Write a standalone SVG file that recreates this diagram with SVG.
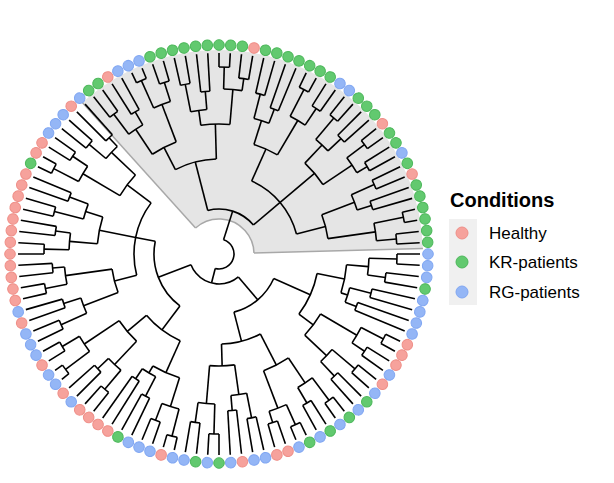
<svg xmlns="http://www.w3.org/2000/svg" xmlns:xlink="http://www.w3.org/1999/xlink" width="614" height="483" viewBox="0 0 614 483">
<style>
.t path,.t circle{stroke:#000;stroke-width:1.6;fill:none}
.dR{fill:#F6A29C;stroke:#EF8F88;stroke-width:1}
.dG{fill:#62C96F;stroke:#4DB85B;stroke-width:1}
.dB{fill:#94B6F6;stroke:#81A7F2;stroke-width:1}
.lab{font-family:"Liberation Sans",Arial,sans-serif;font-size:17px;fill:#000}
</style>
<defs>
<circle id="R" class="dR" cx="209" cy="0" r="5.3"/>
<circle id="G" class="dG" cx="209" cy="0" r="5.3"/>
<circle id="B" class="dB" cx="209" cy="0" r="5.3"/>
</defs>
<rect width="614" height="483" fill="#fff"/>
<g id="highlight" transform="translate(219,254) rotate(231.43)">
<circle r="119.5" fill="none" stroke="#e5e5e5" stroke-width="169" pathLength="360" stroke-dasharray="130.5 400" transform="rotate(-3.5)"/>
<g fill="none" stroke="#a8a8a8" stroke-width="1.5">
<circle r="35" pathLength="360" stroke-dasharray="130.5 400" transform="rotate(-3.5)"/>
<path d="M35 0H204" transform="rotate(-3.5)"/>
<path d="M35 0H204" transform="rotate(127)"/>
</g>
</g>
<g id="tree" class="t" transform="translate(219,254) rotate(231.43)">
<circle r="15" pathLength="360" stroke-dasharray="176.79 400" transform="rotate(56.25)"/>
<path d="M15 0H45" transform="rotate(56.25)"/>
<circle r="45" pathLength="360" stroke-dasharray="64.29 400" transform="rotate(24.11)"/>
<path d="M45 0H95" transform="rotate(24.11)"/>
<circle r="95" pathLength="360" stroke-dasharray="25.71 400" transform="rotate(11.25)"/>
<path d="M45 0H80" transform="rotate(88.39)"/>
<circle r="80" pathLength="360" stroke-dasharray="51.43 400" transform="rotate(62.68)"/>
<path d="M15 0H30" transform="rotate(233.04)"/>
<circle r="30" pathLength="360" stroke-dasharray="109.29 400" transform="rotate(178.39)"/>
<path d="M30 0H60" transform="rotate(178.39)"/>
<circle r="60" pathLength="360" stroke-dasharray="51.43 400" transform="rotate(152.68)"/>
<path d="M60 0H100" transform="rotate(152.68)"/>
<circle r="100" pathLength="360" stroke-dasharray="25.71 400" transform="rotate(139.82)"/>
<path d="M60 0H90" transform="rotate(204.11)"/>
<circle r="90" pathLength="360" stroke-dasharray="25.71 400" transform="rotate(191.25)"/>
<path d="M30 0H65" transform="rotate(287.68)"/>
<circle r="65" pathLength="360" stroke-dasharray="64.29 400" transform="rotate(255.54)"/>
<path d="M65 0H95" transform="rotate(255.54)"/>
<circle r="95" pathLength="360" stroke-dasharray="25.71 400" transform="rotate(242.68)"/>
<path d="M65 0H85" transform="rotate(319.82)"/>
<circle r="85" pathLength="360" stroke-dasharray="51.43 400" transform="rotate(294.11)"/>

<g transform="rotate(0)"><path d="M95 0H120" transform="rotate(11.25)"/><circle r="120" pathLength="360" stroke-dasharray="12.857 400" transform="rotate(4.821)"/>
<g><path d="M120 0H150" transform="rotate(4.821)"/><circle r="150" pathLength="360" stroke-dasharray="6.429 400" transform="rotate(1.607)"/>
<g><path d="M150 0H175" transform="rotate(1.607)"/><path d="M175 0H201"/><path d="M175 0H201" transform="rotate(3.214)"/><circle r="175" pathLength="360" stroke-dasharray="3.214 400"/></g>
<g transform="rotate(6.429)"><path d="M150 0H165" transform="rotate(1.607)"/><path d="M165 0H201"/><path d="M165 0H201" transform="rotate(3.214)"/><circle r="165" pathLength="360" stroke-dasharray="3.214 400"/></g></g>
<g transform="rotate(12.857)"><path d="M120 0H160" transform="rotate(4.821)"/><circle r="160" pathLength="360" stroke-dasharray="6.429 400" transform="rotate(1.607)"/>
<g><path d="M160 0H190" transform="rotate(1.607)"/><path d="M190 0H201"/><path d="M190 0H201" transform="rotate(3.214)"/><circle r="190" pathLength="360" stroke-dasharray="3.214 400"/></g>
<g transform="rotate(6.429)"><path d="M160 0H180" transform="rotate(1.607)"/><path d="M180 0H201"/><path d="M180 0H201" transform="rotate(3.214)"/><circle r="180" pathLength="360" stroke-dasharray="3.214 400"/></g></g></g>

<g transform="rotate(25.714)"><path d="M95 0H130" transform="rotate(11.25)"/><circle r="130" pathLength="360" stroke-dasharray="12.857 400" transform="rotate(4.821)"/>
<g><path d="M130 0H145" transform="rotate(4.821)"/><circle r="145" pathLength="360" stroke-dasharray="6.429 400" transform="rotate(1.607)"/>
<g><path d="M145 0H173" transform="rotate(1.607)"/><path d="M173 0H201"/><path d="M173 0H201" transform="rotate(3.214)"/><circle r="173" pathLength="360" stroke-dasharray="3.214 400"/></g>
<g transform="rotate(6.429)"><path d="M145 0H163" transform="rotate(1.607)"/><path d="M163 0H201"/><path d="M163 0H201" transform="rotate(3.214)"/><circle r="163" pathLength="360" stroke-dasharray="3.214 400"/></g></g>
<g transform="rotate(12.857)"><path d="M130 0H165" transform="rotate(4.821)"/><circle r="165" pathLength="360" stroke-dasharray="6.429 400" transform="rotate(1.607)"/>
<g><path d="M165 0H187" transform="rotate(1.607)"/><path d="M187 0H201"/><path d="M187 0H201" transform="rotate(3.214)"/><circle r="187" pathLength="360" stroke-dasharray="3.214 400"/></g>
<g transform="rotate(6.429)"><path d="M165 0H177" transform="rotate(1.607)"/><path d="M177 0H201"/><path d="M177 0H201" transform="rotate(3.214)"/><circle r="177" pathLength="360" stroke-dasharray="3.214 400"/></g></g></g>

<g transform="rotate(51.429)"><path d="M80 0H115" transform="rotate(11.25)"/><circle r="115" pathLength="360" stroke-dasharray="12.857 400" transform="rotate(4.821)"/>
<g><path d="M115 0H140" transform="rotate(4.821)"/><circle r="140" pathLength="360" stroke-dasharray="6.429 400" transform="rotate(1.607)"/>
<g><path d="M140 0H165" transform="rotate(1.607)"/><path d="M165 0H201"/><path d="M165 0H201" transform="rotate(3.214)"/><circle r="165" pathLength="360" stroke-dasharray="3.214 400"/></g>
<g transform="rotate(6.429)"><path d="M140 0H155" transform="rotate(1.607)"/><path d="M155 0H201"/><path d="M155 0H201" transform="rotate(3.214)"/><circle r="155" pathLength="360" stroke-dasharray="3.214 400"/></g></g>
<g transform="rotate(12.857)"><path d="M115 0H155" transform="rotate(4.821)"/><circle r="155" pathLength="360" stroke-dasharray="6.429 400" transform="rotate(1.607)"/>
<g><path d="M155 0H185" transform="rotate(1.607)"/><path d="M185 0H201"/><path d="M185 0H201" transform="rotate(3.214)"/><circle r="185" pathLength="360" stroke-dasharray="3.214 400"/></g>
<g transform="rotate(6.429)"><path d="M155 0H175" transform="rotate(1.607)"/><path d="M175 0H201"/><path d="M175 0H201" transform="rotate(3.214)"/><circle r="175" pathLength="360" stroke-dasharray="3.214 400"/></g></g></g>

<g transform="rotate(77.143)"><path d="M80 0H125" transform="rotate(11.25)"/><circle r="125" pathLength="360" stroke-dasharray="12.857 400" transform="rotate(4.821)"/>
<g><path d="M125 0H150" transform="rotate(4.821)"/><circle r="150" pathLength="360" stroke-dasharray="6.429 400" transform="rotate(1.607)"/>
<g><path d="M150 0H178" transform="rotate(1.607)"/><path d="M178 0H201"/><path d="M178 0H201" transform="rotate(3.214)"/><circle r="178" pathLength="360" stroke-dasharray="3.214 400"/></g>
<g transform="rotate(6.429)"><path d="M150 0H168" transform="rotate(1.607)"/><path d="M168 0H201"/><path d="M168 0H201" transform="rotate(3.214)"/><circle r="168" pathLength="360" stroke-dasharray="3.214 400"/></g></g>
<g transform="rotate(12.857)"><path d="M125 0H160" transform="rotate(4.821)"/><circle r="160" pathLength="360" stroke-dasharray="6.429 400" transform="rotate(1.607)"/>
<g><path d="M160 0H182" transform="rotate(1.607)"/><path d="M182 0H201"/><path d="M182 0H201" transform="rotate(3.214)"/><circle r="182" pathLength="360" stroke-dasharray="3.214 400"/></g>
<g transform="rotate(6.429)"><path d="M160 0H172" transform="rotate(1.607)"/><path d="M172 0H201"/><path d="M172 0H201" transform="rotate(3.214)"/><circle r="172" pathLength="360" stroke-dasharray="3.214 400"/></g></g></g>

<g transform="rotate(102.857)"><path d="M80 0H110" transform="rotate(11.25)"/><circle r="110" pathLength="360" stroke-dasharray="12.857 400" transform="rotate(4.821)"/>
<g><path d="M110 0H145" transform="rotate(4.821)"/><circle r="145" pathLength="360" stroke-dasharray="6.429 400" transform="rotate(1.607)"/>
<g><path d="M145 0H170" transform="rotate(1.607)"/><path d="M170 0H201"/><path d="M170 0H201" transform="rotate(3.214)"/><circle r="170" pathLength="360" stroke-dasharray="3.214 400"/></g>
<g transform="rotate(6.429)"><path d="M145 0H160" transform="rotate(1.607)"/><path d="M160 0H201"/><path d="M160 0H201" transform="rotate(3.214)"/><circle r="160" pathLength="360" stroke-dasharray="3.214 400"/></g></g>
<g transform="rotate(12.857)"><path d="M110 0H158" transform="rotate(4.821)"/><circle r="158" pathLength="360" stroke-dasharray="6.429 400" transform="rotate(1.607)"/>
<g><path d="M158 0H188" transform="rotate(1.607)"/><path d="M188 0H201"/><path d="M188 0H201" transform="rotate(3.214)"/><circle r="188" pathLength="360" stroke-dasharray="3.214 400"/></g>
<g transform="rotate(6.429)"><path d="M158 0H178" transform="rotate(1.607)"/><path d="M178 0H201"/><path d="M178 0H201" transform="rotate(3.214)"/><circle r="178" pathLength="360" stroke-dasharray="3.214 400"/></g></g></g>

<g transform="rotate(128.571)"><path d="M100 0H128" transform="rotate(11.25)"/><circle r="128" pathLength="360" stroke-dasharray="12.857 400" transform="rotate(4.821)"/>
<g><path d="M128 0H150" transform="rotate(4.821)"/><circle r="150" pathLength="360" stroke-dasharray="6.429 400" transform="rotate(1.607)"/>
<g><path d="M150 0H178" transform="rotate(1.607)"/><path d="M178 0H201"/><path d="M178 0H201" transform="rotate(3.214)"/><circle r="178" pathLength="360" stroke-dasharray="3.214 400"/></g>
<g transform="rotate(6.429)"><path d="M150 0H168" transform="rotate(1.607)"/><path d="M168 0H201"/><path d="M168 0H201" transform="rotate(3.214)"/><circle r="168" pathLength="360" stroke-dasharray="3.214 400"/></g></g>
<g transform="rotate(12.857)"><path d="M128 0H135" transform="rotate(4.821)"/><circle r="135" pathLength="360" stroke-dasharray="6.429 400" transform="rotate(1.607)"/>
<g><path d="M135 0H157" transform="rotate(1.607)"/><path d="M157 0H201"/><path d="M157 0H201" transform="rotate(3.214)"/><circle r="157" pathLength="360" stroke-dasharray="3.214 400"/></g>
<g transform="rotate(6.429)"><path d="M135 0H147" transform="rotate(1.607)"/><path d="M147 0H201"/><path d="M147 0H201" transform="rotate(3.214)"/><circle r="147" pathLength="360" stroke-dasharray="3.214 400"/></g></g></g>

<g transform="rotate(154.286)"><path d="M100 0H118" transform="rotate(11.25)"/><circle r="118" pathLength="360" stroke-dasharray="12.857 400" transform="rotate(4.821)"/>
<g><path d="M118 0H160" transform="rotate(4.821)"/><circle r="160" pathLength="360" stroke-dasharray="6.429 400" transform="rotate(1.607)"/>
<g><path d="M160 0H185" transform="rotate(1.607)"/><path d="M185 0H201"/><path d="M185 0H201" transform="rotate(3.214)"/><circle r="185" pathLength="360" stroke-dasharray="3.214 400"/></g>
<g transform="rotate(6.429)"><path d="M160 0H175" transform="rotate(1.607)"/><path d="M175 0H201"/><path d="M175 0H201" transform="rotate(3.214)"/><circle r="175" pathLength="360" stroke-dasharray="3.214 400"/></g></g>
<g transform="rotate(12.857)"><path d="M118 0H148" transform="rotate(4.821)"/><circle r="148" pathLength="360" stroke-dasharray="6.429 400" transform="rotate(1.607)"/>
<g><path d="M148 0H178" transform="rotate(1.607)"/><path d="M178 0H201"/><path d="M178 0H201" transform="rotate(3.214)"/><circle r="178" pathLength="360" stroke-dasharray="3.214 400"/></g>
<g transform="rotate(6.429)"><path d="M148 0H168" transform="rotate(1.607)"/><path d="M168 0H201"/><path d="M168 0H201" transform="rotate(3.214)"/><circle r="168" pathLength="360" stroke-dasharray="3.214 400"/></g></g></g>

<g transform="rotate(180)"><path d="M90 0H125" transform="rotate(11.25)"/><circle r="125" pathLength="360" stroke-dasharray="12.857 400" transform="rotate(4.821)"/>
<g><path d="M125 0H155" transform="rotate(4.821)"/><circle r="155" pathLength="360" stroke-dasharray="6.429 400" transform="rotate(1.607)"/>
<g><path d="M155 0H183" transform="rotate(1.607)"/><path d="M183 0H201"/><path d="M183 0H201" transform="rotate(3.214)"/><circle r="183" pathLength="360" stroke-dasharray="3.214 400"/></g>
<g transform="rotate(6.429)"><path d="M155 0H173" transform="rotate(1.607)"/><path d="M173 0H201"/><path d="M173 0H201" transform="rotate(3.214)"/><circle r="173" pathLength="360" stroke-dasharray="3.214 400"/></g></g>
<g transform="rotate(12.857)"><path d="M125 0H165" transform="rotate(4.821)"/><circle r="165" pathLength="360" stroke-dasharray="6.429 400" transform="rotate(1.607)"/>
<g><path d="M165 0H187" transform="rotate(1.607)"/><path d="M187 0H201"/><path d="M187 0H201" transform="rotate(3.214)"/><circle r="187" pathLength="360" stroke-dasharray="3.214 400"/></g>
<g transform="rotate(6.429)"><path d="M165 0H177" transform="rotate(1.607)"/><path d="M177 0H201"/><path d="M177 0H201" transform="rotate(3.214)"/><circle r="177" pathLength="360" stroke-dasharray="3.214 400"/></g></g></g>

<g transform="rotate(205.714)"><path d="M90 0H112" transform="rotate(11.25)"/><circle r="112" pathLength="360" stroke-dasharray="12.857 400" transform="rotate(4.821)"/>
<g><path d="M112 0H142" transform="rotate(4.821)"/><circle r="142" pathLength="360" stroke-dasharray="6.429 400" transform="rotate(1.607)"/>
<g><path d="M142 0H167" transform="rotate(1.607)"/><path d="M167 0H201"/><path d="M167 0H201" transform="rotate(3.214)"/><circle r="167" pathLength="360" stroke-dasharray="3.214 400"/></g>
<g transform="rotate(6.429)"><path d="M142 0H157" transform="rotate(1.607)"/><path d="M157 0H201"/><path d="M157 0H201" transform="rotate(3.214)"/><circle r="157" pathLength="360" stroke-dasharray="3.214 400"/></g></g>
<g transform="rotate(12.857)"><path d="M112 0H150" transform="rotate(4.821)"/><circle r="150" pathLength="360" stroke-dasharray="6.429 400" transform="rotate(1.607)"/>
<g><path d="M150 0H180" transform="rotate(1.607)"/><path d="M180 0H201"/><path d="M180 0H201" transform="rotate(3.214)"/><circle r="180" pathLength="360" stroke-dasharray="3.214 400"/></g>
<g transform="rotate(6.429)"><path d="M150 0H170" transform="rotate(1.607)"/><path d="M170 0H201"/><path d="M170 0H201" transform="rotate(3.214)"/><circle r="170" pathLength="360" stroke-dasharray="3.214 400"/></g></g></g>

<g transform="rotate(231.429)"><path d="M95 0H130" transform="rotate(11.25)"/><circle r="130" pathLength="360" stroke-dasharray="12.857 400" transform="rotate(4.821)"/>
<g><path d="M130 0H160" transform="rotate(4.821)"/><circle r="160" pathLength="360" stroke-dasharray="6.429 400" transform="rotate(1.607)"/>
<g><path d="M160 0H188" transform="rotate(1.607)"/><path d="M188 0H201"/><path d="M188 0H201" transform="rotate(3.214)"/><circle r="188" pathLength="360" stroke-dasharray="3.214 400"/></g>
<g transform="rotate(6.429)"><path d="M160 0H178" transform="rotate(1.607)"/><path d="M178 0H201"/><path d="M178 0H201" transform="rotate(3.214)"/><circle r="178" pathLength="360" stroke-dasharray="3.214 400"/></g></g>
<g transform="rotate(12.857)"><path d="M130 0H138" transform="rotate(4.821)"/><circle r="138" pathLength="360" stroke-dasharray="6.429 400" transform="rotate(1.607)"/>
<g><path d="M138 0H160" transform="rotate(1.607)"/><path d="M160 0H201"/><path d="M160 0H201" transform="rotate(3.214)"/><circle r="160" pathLength="360" stroke-dasharray="3.214 400"/></g>
<g transform="rotate(6.429)"><path d="M138 0H150" transform="rotate(1.607)"/><path d="M150 0H201"/><path d="M150 0H201" transform="rotate(3.214)"/><circle r="150" pathLength="360" stroke-dasharray="3.214 400"/></g></g></g>

<g transform="rotate(257.143)"><path d="M95 0H120" transform="rotate(11.25)"/><circle r="120" pathLength="360" stroke-dasharray="12.857 400" transform="rotate(4.821)"/>
<g><path d="M120 0H152" transform="rotate(4.821)"/><circle r="152" pathLength="360" stroke-dasharray="6.429 400" transform="rotate(1.607)"/>
<g><path d="M152 0H177" transform="rotate(1.607)"/><path d="M177 0H201"/><path d="M177 0H201" transform="rotate(3.214)"/><circle r="177" pathLength="360" stroke-dasharray="3.214 400"/></g>
<g transform="rotate(6.429)"><path d="M152 0H167" transform="rotate(1.607)"/><path d="M167 0H201"/><path d="M167 0H201" transform="rotate(3.214)"/><circle r="167" pathLength="360" stroke-dasharray="3.214 400"/></g></g>
<g transform="rotate(12.857)"><path d="M120 0H162" transform="rotate(4.821)"/><circle r="162" pathLength="360" stroke-dasharray="6.429 400" transform="rotate(1.607)"/>
<g><path d="M162 0H192" transform="rotate(1.607)"/><path d="M192 0H201"/><path d="M192 0H201" transform="rotate(3.214)"/><circle r="192" pathLength="360" stroke-dasharray="3.214 400"/></g>
<g transform="rotate(6.429)"><path d="M162 0H182" transform="rotate(1.607)"/><path d="M182 0H201"/><path d="M182 0H201" transform="rotate(3.214)"/><circle r="182" pathLength="360" stroke-dasharray="3.214 400"/></g></g></g>

<g transform="rotate(282.857)"><path d="M85 0H108" transform="rotate(11.25)"/><circle r="108" pathLength="360" stroke-dasharray="12.857 400" transform="rotate(4.821)"/>
<g><path d="M108 0H145" transform="rotate(4.821)"/><circle r="145" pathLength="360" stroke-dasharray="6.429 400" transform="rotate(1.607)"/>
<g><path d="M145 0H173" transform="rotate(1.607)"/><path d="M173 0H201"/><path d="M173 0H201" transform="rotate(3.214)"/><circle r="173" pathLength="360" stroke-dasharray="3.214 400"/></g>
<g transform="rotate(6.429)"><path d="M145 0H163" transform="rotate(1.607)"/><path d="M163 0H201"/><path d="M163 0H201" transform="rotate(3.214)"/><circle r="163" pathLength="360" stroke-dasharray="3.214 400"/></g></g>
<g transform="rotate(12.857)"><path d="M108 0H155" transform="rotate(4.821)"/><circle r="155" pathLength="360" stroke-dasharray="6.429 400" transform="rotate(1.607)"/>
<g><path d="M155 0H177" transform="rotate(1.607)"/><path d="M177 0H201"/><path d="M177 0H201" transform="rotate(3.214)"/><circle r="177" pathLength="360" stroke-dasharray="3.214 400"/></g>
<g transform="rotate(6.429)"><path d="M155 0H167" transform="rotate(1.607)"/><path d="M167 0H201"/><path d="M167 0H201" transform="rotate(3.214)"/><circle r="167" pathLength="360" stroke-dasharray="3.214 400"/></g></g></g>

<g transform="rotate(308.571)"><path d="M85 0H122" transform="rotate(11.25)"/><circle r="122" pathLength="360" stroke-dasharray="12.857 400" transform="rotate(4.821)"/>
<g><path d="M122 0H150" transform="rotate(4.821)"/><circle r="150" pathLength="360" stroke-dasharray="6.429 400" transform="rotate(1.607)"/>
<g><path d="M150 0H175" transform="rotate(1.607)"/><path d="M175 0H201"/><path d="M175 0H201" transform="rotate(3.214)"/><circle r="175" pathLength="360" stroke-dasharray="3.214 400"/></g>
<g transform="rotate(6.429)"><path d="M150 0H165" transform="rotate(1.607)"/><path d="M165 0H201"/><path d="M165 0H201" transform="rotate(3.214)"/><circle r="165" pathLength="360" stroke-dasharray="3.214 400"/></g></g>
<g transform="rotate(12.857)"><path d="M122 0H140" transform="rotate(4.821)"/><circle r="140" pathLength="360" stroke-dasharray="6.429 400" transform="rotate(1.607)"/>
<g><path d="M140 0H170" transform="rotate(1.607)"/><path d="M170 0H201"/><path d="M170 0H201" transform="rotate(3.214)"/><circle r="170" pathLength="360" stroke-dasharray="3.214 400"/></g>
<g transform="rotate(6.429)"><path d="M140 0H160" transform="rotate(1.607)"/><path d="M160 0H201"/><path d="M160 0H201" transform="rotate(3.214)"/><circle r="160" pathLength="360" stroke-dasharray="3.214 400"/></g></g></g>

<g transform="rotate(334.286)"><path d="M85 0H115" transform="rotate(11.25)"/><circle r="115" pathLength="360" stroke-dasharray="12.857 400" transform="rotate(4.821)"/>
<g><path d="M115 0H158" transform="rotate(4.821)"/><circle r="158" pathLength="360" stroke-dasharray="6.429 400" transform="rotate(1.607)"/>
<g><path d="M158 0H186" transform="rotate(1.607)"/><path d="M186 0H201"/><path d="M186 0H201" transform="rotate(3.214)"/><circle r="186" pathLength="360" stroke-dasharray="3.214 400"/></g>
<g transform="rotate(6.429)"><path d="M158 0H176" transform="rotate(1.607)"/><path d="M176 0H201"/><path d="M176 0H201" transform="rotate(3.214)"/><circle r="176" pathLength="360" stroke-dasharray="3.214 400"/></g></g>
<g transform="rotate(12.857)"><path d="M115 0H148" transform="rotate(4.821)"/><circle r="148" pathLength="360" stroke-dasharray="6.429 400" transform="rotate(1.607)"/>
<g><path d="M148 0H170" transform="rotate(1.607)"/><path d="M170 0H201"/><path d="M170 0H201" transform="rotate(3.214)"/><circle r="170" pathLength="360" stroke-dasharray="3.214 400"/></g>
<g transform="rotate(6.429)"><path d="M148 0H160" transform="rotate(1.607)"/><path d="M160 0H201"/><path d="M160 0H201" transform="rotate(3.214)"/><circle r="160" pathLength="360" stroke-dasharray="3.214 400"/></g></g></g>
</g>
<g id="tips" transform="translate(219,254)">
<use href="#B" transform="rotate(0)"/><use href="#B" transform="rotate(3.21)"/><use href="#B" transform="rotate(6.43)"/><use href="#G" transform="rotate(9.64)"/><use href="#B" transform="rotate(12.86)"/><use href="#B" transform="rotate(16.07)"/><use href="#B" transform="rotate(19.29)"/><use href="#B" transform="rotate(22.5)"/><use href="#R" transform="rotate(25.71)"/><use href="#R" transform="rotate(28.93)"/><use href="#R" transform="rotate(32.14)"/><use href="#B" transform="rotate(35.36)"/><use href="#R" transform="rotate(38.57)"/><use href="#B" transform="rotate(41.79)"/><use href="#G" transform="rotate(45)"/><use href="#B" transform="rotate(48.21)"/><use href="#G" transform="rotate(51.43)"/><use href="#B" transform="rotate(54.64)"/><use href="#G" transform="rotate(57.86)"/><use href="#B" transform="rotate(61.07)"/><use href="#G" transform="rotate(64.29)"/><use href="#B" transform="rotate(67.5)"/><use href="#R" transform="rotate(70.71)"/><use href="#R" transform="rotate(73.93)"/><use href="#B" transform="rotate(77.14)"/><use href="#B" transform="rotate(80.36)"/><use href="#R" transform="rotate(83.57)"/><use href="#B" transform="rotate(86.79)"/><use href="#G" transform="rotate(90)"/>
<use href="#B" transform="rotate(93.21)"/><use href="#G" transform="rotate(96.43)"/><use href="#B" transform="rotate(99.64)"/><use href="#B" transform="rotate(102.86)"/><use href="#R" transform="rotate(106.07)"/><use href="#B" transform="rotate(109.29)"/><use href="#B" transform="rotate(112.5)"/><use href="#B" transform="rotate(115.71)"/><use href="#G" transform="rotate(118.93)"/><use href="#R" transform="rotate(122.14)"/><use href="#R" transform="rotate(125.36)"/><use href="#R" transform="rotate(128.57)"/><use href="#R" transform="rotate(131.79)"/><use href="#B" transform="rotate(135)"/><use href="#R" transform="rotate(138.21)"/><use href="#B" transform="rotate(141.43)"/><use href="#B" transform="rotate(144.64)"/><use href="#R" transform="rotate(147.86)"/><use href="#B" transform="rotate(151.07)"/><use href="#B" transform="rotate(154.29)"/><use href="#B" transform="rotate(157.5)"/><use href="#R" transform="rotate(160.71)"/><use href="#B" transform="rotate(163.93)"/><use href="#R" transform="rotate(167.14)"/><use href="#R" transform="rotate(170.36)"/><use href="#R" transform="rotate(173.57)"/><use href="#R" transform="rotate(176.79)"/><use href="#R" transform="rotate(180)"/>
<use href="#R" transform="rotate(183.21)"/><use href="#R" transform="rotate(186.43)"/><use href="#R" transform="rotate(189.64)"/><use href="#R" transform="rotate(192.86)"/><use href="#R" transform="rotate(196.07)"/><use href="#R" transform="rotate(199.29)"/><use href="#R" transform="rotate(202.5)"/><use href="#G" transform="rotate(205.71)"/><use href="#R" transform="rotate(208.93)"/><use href="#R" transform="rotate(212.14)"/><use href="#B" transform="rotate(215.36)"/><use href="#B" transform="rotate(218.57)"/><use href="#B" transform="rotate(221.79)"/><use href="#R" transform="rotate(225)"/><use href="#B" transform="rotate(228.21)"/><use href="#G" transform="rotate(231.43)"/><use href="#G" transform="rotate(234.64)"/><use href="#R" transform="rotate(237.86)"/><use href="#B" transform="rotate(241.07)"/><use href="#B" transform="rotate(244.29)"/><use href="#B" transform="rotate(247.5)"/><use href="#G" transform="rotate(250.71)"/><use href="#G" transform="rotate(253.93)"/><use href="#G" transform="rotate(257.14)"/><use href="#G" transform="rotate(260.36)"/><use href="#G" transform="rotate(263.57)"/><use href="#G" transform="rotate(266.79)"/><use href="#G" transform="rotate(270)"/>
<use href="#G" transform="rotate(273.21)"/><use href="#G" transform="rotate(276.43)"/><use href="#R" transform="rotate(279.64)"/><use href="#G" transform="rotate(282.86)"/><use href="#G" transform="rotate(286.07)"/><use href="#G" transform="rotate(289.29)"/><use href="#G" transform="rotate(292.5)"/><use href="#G" transform="rotate(295.71)"/><use href="#G" transform="rotate(298.93)"/><use href="#G" transform="rotate(302.14)"/><use href="#B" transform="rotate(305.36)"/><use href="#B" transform="rotate(308.57)"/><use href="#G" transform="rotate(311.79)"/><use href="#G" transform="rotate(315)"/><use href="#G" transform="rotate(318.21)"/><use href="#R" transform="rotate(321.43)"/><use href="#G" transform="rotate(324.64)"/><use href="#G" transform="rotate(327.86)"/><use href="#B" transform="rotate(331.07)"/><use href="#G" transform="rotate(334.29)"/><use href="#R" transform="rotate(337.5)"/><use href="#G" transform="rotate(340.71)"/><use href="#G" transform="rotate(343.93)"/><use href="#G" transform="rotate(347.14)"/><use href="#G" transform="rotate(350.36)"/><use href="#G" transform="rotate(353.57)"/><use href="#G" transform="rotate(356.79)"/>
</g>
<g id="legend">
<text x="450" y="207" font-family="Liberation Sans, Arial, sans-serif" font-size="20" font-weight="bold">Conditions</text>
<rect x="449" y="219" width="28" height="86" fill="#f0f0f0"/>
<circle class="dR" cx="462" cy="233" r="6"/>
<circle class="dG" cx="462" cy="262" r="6"/>
<circle class="dB" cx="462" cy="292" r="6"/>
<text class="lab" x="489" y="239">Healthy</text>
<text class="lab" x="489" y="268">KR-patients</text>
<text class="lab" x="489" y="298">RG-patients</text>
</g>
</svg>
